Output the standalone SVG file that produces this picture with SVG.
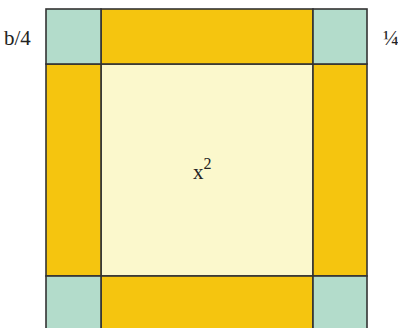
<svg xmlns="http://www.w3.org/2000/svg" width="398" height="328" viewBox="0 0 398 328">
<style>
.t{fill:#b3dccb;stroke:#333;stroke-width:1.6}
.g{fill:#f5c50f;stroke:#333;stroke-width:1.6}
.c{fill:#fbf8cc;stroke:#333;stroke-width:1.6}
text{font-family:"Liberation Serif",serif;fill:#222}
</style>
<rect width="398" height="328" fill="#fff"/>
<g id="center"><rect class="c" x="101" y="64" width="212" height="212"/></g>
<g id="top"><rect class="g" x="101" y="9" width="212" height="55"/></g>
<g id="bottom"><rect class="g" x="101" y="276" width="212" height="55"/></g>
<g id="left"><rect class="g" x="46" y="64" width="55" height="212"/></g>
<g id="right"><rect class="g" x="313" y="64" width="54" height="212"/></g>
<g id="tl"><rect class="t" x="46" y="9" width="55" height="55"/></g>
<g id="tr"><rect class="t" x="313" y="9" width="54" height="55"/></g>
<g id="bl"><rect class="t" x="46" y="276" width="55" height="55"/></g>
<g id="br"><rect class="t" x="313" y="276" width="54" height="55"/></g>
<text x="4" y="45" font-size="21">b/4</text>
<text x="383" y="45" font-size="21">¼</text>
<text x="193" y="179" font-size="21">x<tspan font-size="16" dy="-10">2</tspan></text>
</svg>
